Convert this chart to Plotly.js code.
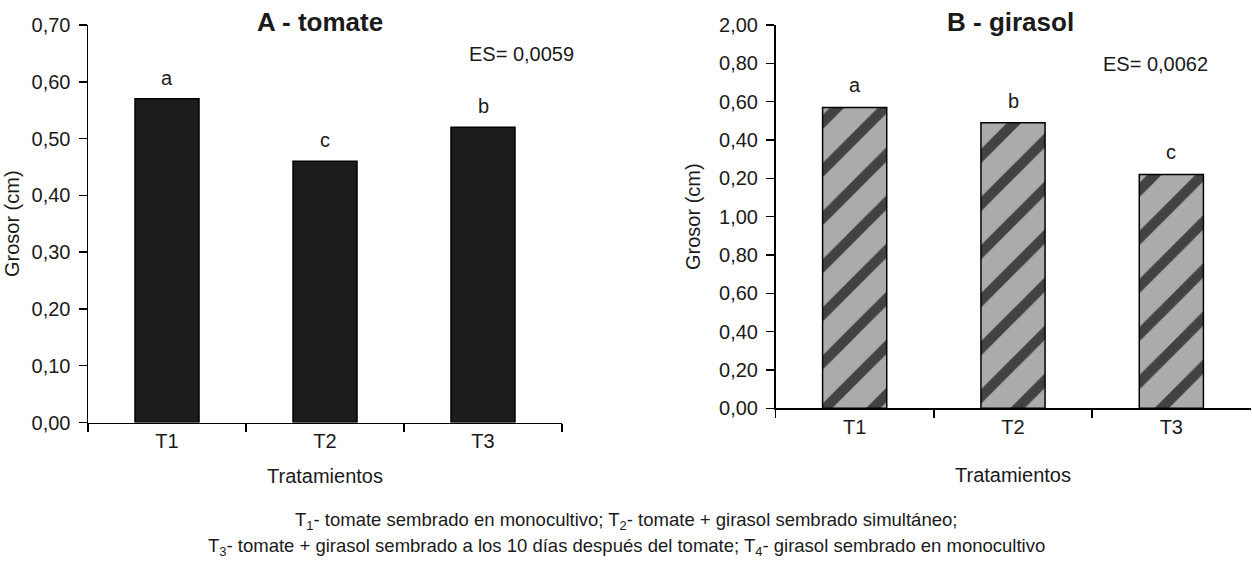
<!DOCTYPE html>
<html>
<head>
<meta charset="utf-8">
<script src="https://cdn.plot.ly/plotly-3.0.1.min.js"></script>
<style>
html, body { margin: 0; padding: 0; background: #ffffff; }
#chart { width: 1252px; height: 563px; }
</style>
</head>
<body>
<div id="chart"></div>
<script>
// ---- Data ----
const categories = ['T1', 'T2', 'T3'];
const tomateValues = [0.57, 0.46, 0.52];
const girasolValues = [1.57, 1.49, 1.22];
const tomateLetters = ['a', 'c', 'b'];
const girasolLetters = ['a', 'b', 'c'];
const tomateTickVals = [0, 0.1, 0.2, 0.3, 0.4, 0.5, 0.6, 0.7];
const tomateTickText = ['0,00', '0,10', '0,20', '0,30', '0,40', '0,50', '0,60', '0,70'];
const girasolTickVals = [0, 0.2, 0.4, 0.6, 0.8, 1.0, 1.2, 1.4, 1.6, 1.8, 2.0];
const girasolTickText = ['0,00', '0,20', '0,40', '0,60', '0,80', '1,00', '0,20', '0,40', '0,60', '0,80', '2,00'];
const titleA = 'A - tomate';
const titleB = 'B - girasol';
const esA = 'ES= 0,0059';
const esB = 'ES= 0,0062';
const yTitle = 'Grosor (cm)';
const xTitle = 'Tratamientos';
const captionLine1 = 'T<sub>1</sub>- tomate sembrado en monocultivo; T<sub>2</sub>- tomate + girasol sembrado simultáneo;';
const captionLine2 = 'T<sub>3</sub>- tomate + girasol sembrado a los 10 días después del tomate; T<sub>4</sub>- girasol sembrado en monocultivo';

// ---- Style ----
const FONT = 'Liberation Sans, Arial, Helvetica, sans-serif';
const TXT = '#1a1a1a';
const W = 1252, H = 563;
const px = v => v / W;
const py = v => 1 - v / H;

const traces = [
  {
    type: 'bar', x: categories, y: tomateValues, xaxis: 'x', yaxis: 'y',
    width: 0.405,
    marker: { color: '#1c1c1c', line: { color: '#000000', width: 1.5 } },
    hoverinfo: 'x+y'
  },
  {
    type: 'bar', x: categories, y: girasolValues, xaxis: 'x2', yaxis: 'y2',
    width: 0.405,
    marker: {
      color: '#9a9a9a',
      line: { color: '#000000', width: 1.5 },
      pattern: { shape: '/', bgcolor: '#ababab', fgcolor: '#424242', size: 34, solidity: 0.3 }
    },
    hoverinfo: 'x+y'
  }
];

function xAxis(domain, anchor, standoff) {
  return {
    domain: domain, anchor: anchor, type: 'category', range: [-0.5, 2.5],
    showline: true, linecolor: '#000', linewidth: 1.5, mirror: false,
    ticks: 'outside', tickson: 'boundaries', ticklen: 8, tickwidth: 1.5, tickcolor: '#000',
    showgrid: false, zeroline: false, fixedrange: true,
    tickfont: { family: FONT, size: 20, color: TXT },
    title: { text: xTitle, standoff: standoff, font: { family: FONT, size: 20, color: TXT } },
    automargin: false
  };
}
function yAxis(domain, anchor, range, vals, text, standoff) {
  return {
    domain: domain, anchor: anchor, range: range,
    tickmode: 'array', tickvals: vals, ticktext: text,
    showline: true, linecolor: '#000', linewidth: 1.5,
    ticks: 'outside', ticklen: 8, tickwidth: 1.5, tickcolor: '#000', ticklabelstandoff: 4,
    showgrid: false, zeroline: false, fixedrange: true,
    tickfont: { family: FONT, size: 20, color: TXT },
    title: { text: yTitle, standoff: standoff, font: { family: FONT, size: 20, color: TXT } },
    automargin: false
  };
}

const annotations = [];
annotations.push({ xref: 'paper', yref: 'paper', x: px(319.5), y: py(22), xanchor: 'center', yanchor: 'middle',
  text: '<b>' + titleA + '</b>', showarrow: false, font: { family: FONT, size: 26, color: TXT } });
annotations.push({ xref: 'paper', yref: 'paper', x: px(1010.5), y: py(22), xanchor: 'center', yanchor: 'middle',
  text: '<b>' + titleB + '</b>', showarrow: false, font: { family: FONT, size: 26, color: TXT } });
annotations.push({ xref: 'paper', yref: 'paper', x: px(521), y: py(54), xanchor: 'center', yanchor: 'middle',
  text: esA, showarrow: false, font: { family: FONT, size: 20, color: TXT } });
annotations.push({ xref: 'paper', yref: 'paper', x: px(1155), y: py(64), xanchor: 'center', yanchor: 'middle',
  text: esB, showarrow: false, font: { family: FONT, size: 20, color: TXT } });
categories.forEach((c, i) => {
  annotations.push({ xref: 'x', yref: 'y', x: c, y: tomateValues[i], xanchor: 'center', yanchor: 'bottom', yshift: 8,
    text: tomateLetters[i], showarrow: false, font: { family: FONT, size: 20, color: TXT } });
  annotations.push({ xref: 'x2', yref: 'y2', x: c, y: girasolValues[i], xanchor: 'center', yanchor: 'bottom', yshift: 9,
    text: girasolLetters[i], showarrow: false, font: { family: FONT, size: 20, color: TXT } });
});
annotations.push({ xref: 'paper', yref: 'paper', x: px(626), y: py(521), xanchor: 'center', yanchor: 'middle',
  text: captionLine1, showarrow: false, font: { family: FONT, size: 18.5, color: TXT } });
annotations.push({ xref: 'paper', yref: 'paper', x: px(626), y: py(547), xanchor: 'center', yanchor: 'middle',
  text: captionLine2, showarrow: false, font: { family: FONT, size: 18.5, color: TXT } });

const layout = {
  width: W, height: H,
  margin: { l: 0, r: 0, t: 0, b: 0, pad: 0 },
  paper_bgcolor: '#ffffff', plot_bgcolor: '#ffffff',
  showlegend: false, bargap: 0.6,
  font: { family: FONT, size: 20, color: TXT },
  xaxis: xAxis([px(88), px(562)], 'y', 18),
  yaxis: yAxis([py(422.5), py(25)], 'x', [0, 0.7], tomateTickVals, tomateTickText, 6),
  xaxis2: xAxis([px(775.5), px(1250.5)], 'y2', 31),
  yaxis2: yAxis([py(408.3), py(25)], 'x2', [0, 2.0], girasolTickVals, girasolTickText, 13),
  annotations: annotations
};

Plotly.newPlot('chart', traces, layout, { displayModeBar: false, staticPlot: true });
</script>
</body>
</html>
